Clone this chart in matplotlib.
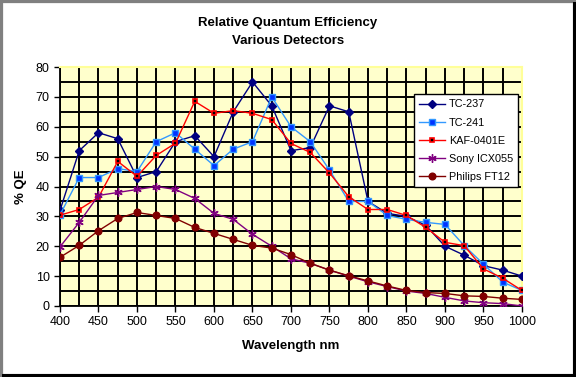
import numpy as np
import matplotlib
matplotlib.use('Agg')
import matplotlib.pyplot as plt
from matplotlib.ticker import MultipleLocator
from matplotlib.patches import Rectangle

plt.rcParams['font.family'] = ['Liberation Sans', 'DejaVu Sans']

# wavelength, nm
wavelength = list(range(400, 1001, 25))

tc237 = [32, 52, 58, 56, 43, 45, 55, 57, 50, 65, 75, 67, 52, 53, 67, 65,
         35, 31, 30, 27, 20, 17, 13.5, 12, 10]
tc241 = [30.5, 43, 43, 46, 45, 55, 58, 52.5, 47, 52.5, 55, 70, 60, 55, 45.5, 35,
         35, 30.3, 29, 28, 27.3, 20.2, 14, 8, 5.2]
kaf0401e = [30.4, 32.3, 36.4, 48.4, 43.4, 50.4, 54.5, 68.5, 64.5, 65.4, 64.5, 62.4, 54.4, 51.4,
            44.5, 36.6, 32.3, 32.3, 30.3, 26.3, 21.3, 20.2, 12.4, 9.3, 5.2]
sony_icx055 = [19.8, 28, 37, 38, 39, 40, 39, 36, 31, 29, 24, 20, 15.8, 14.3, 12, 10,
               8.1, 6.5, 5, 4.2, 2.9, 1.7, 1.1, 0.8, 0]
philips_ft12 = [16.3, 20.3, 25.2, 29.3, 31.3, 30.3, 29.3, 26.3, 24.3, 22.3, 20.3, 19.4, 17.2,
                14.3, 12, 10.1, 8.4, 6.7, 5.2, 4.5, 4.2, 3.4, 3.2, 2.6, 2.2]

fig = plt.figure(figsize=(5.76, 3.77), dpi=100)
fig.patch.set_facecolor('white')

# chart frame: gray border + black shadow
fig.patches.append(Rectangle((0, 0), 1, 1, transform=fig.transFigure,
                             facecolor='none', edgecolor='#808080', linewidth=4.5))
fig.patches.append(Rectangle((2 / 576, 0), 574 / 576, 3 / 377, transform=fig.transFigure,
                             facecolor='black', edgecolor='none'))
fig.patches.append(Rectangle((573 / 576, 0), 3 / 576, 375 / 377, transform=fig.transFigure,
                             facecolor='black', edgecolor='none'))

ax = fig.add_axes([60 / 576, 1 - 306 / 377, 462 / 576, 239 / 377])
ax.set_facecolor('#FFFFCC')

ax.plot(wavelength, tc237, color='#000080', lw=1, marker='D', ms=4.5,
        mfc='#000080', mec='#000080', label='TC-237', zorder=3)
ax.plot(wavelength, tc241, color='#3399FF', lw=1, marker='s', ms=5,
        mfc='#0033FF', mec='#3399FF', label='TC-241', zorder=3)
ax.plot(wavelength, kaf0401e, color='#FF0000', lw=1, marker='s', ms=3.3,
        mfc='black', mec='#FF0000', mew=1.2, label='KAF-0401E', zorder=3)
ax.plot(wavelength, sony_icx055, color='#800080', lw=1, marker=(6, 2, 0), ms=6,
        mfc='#800080', mec='#800080', label='Sony ICX055', zorder=3)
ax.plot(wavelength, philips_ft12, color='#800000', lw=1, marker='o', ms=4.8,
        mfc='#800000', mec='#800000', label='Philips FT12', zorder=3)

ax.set_xlim(400, 1000)
ax.set_ylim(0, 80)
ax.xaxis.set_major_locator(MultipleLocator(50))
ax.xaxis.set_minor_locator(MultipleLocator(25))
ax.yaxis.set_major_locator(MultipleLocator(10))
ax.yaxis.set_minor_locator(MultipleLocator(5))
ax.grid(which='both', color='black', lw=1.4, zorder=1)
ax.set_axisbelow(True)
ax.tick_params(which='major', direction='out', length=4, width=1, labelsize=9, color='black')
ax.tick_params(which='minor', length=0)

for side in ['top', 'right']:
    ax.spines[side].set_color('#FFFF99')
    ax.spines[side].set_linewidth(1.5)
    ax.spines[side].set_zorder(2.5)
for side in ['left', 'bottom']:
    ax.spines[side].set_color('black')
    ax.spines[side].set_linewidth(1.3)

ax.set_xlabel('Wavelength nm', fontsize=9.5, fontweight='bold', labelpad=8)
ax.set_ylabel('% QE', fontsize=9.5, fontweight='bold', labelpad=6)

fig.text(288 / 576, 1 - 32 / 377, 'Relative Quantum Efficiency\nVarious Detectors',
         ha='center', va='center', fontsize=9.5, fontweight='bold', linespacing=1.6)

leg = ax.legend(loc='upper left', bbox_to_anchor=((414 - 60) / 462, (306 - 94) / 239),
                fontsize=7.8, frameon=True, fancybox=False, framealpha=1,
                edgecolor='black', borderpad=0.5, labelspacing=0.75,
                handlelength=2.4, handletextpad=0.3, borderaxespad=0)
leg.get_frame().set_linewidth(1)
leg.set_zorder(5)

fig.savefig('out.png', dpi=100, facecolor=fig.get_facecolor())
